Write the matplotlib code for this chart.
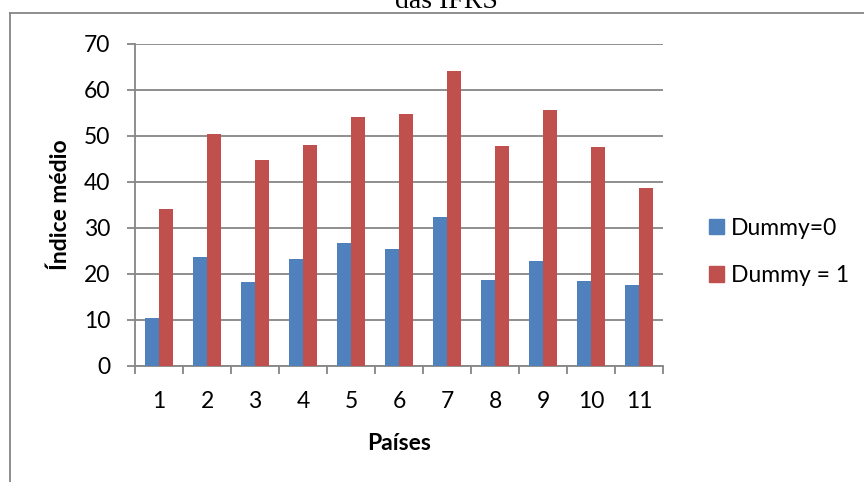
import matplotlib.pyplot as plt
import numpy as np
from matplotlib.lines import Line2D
from matplotlib.patches import Patch

paises = ['1', '2', '3', '4', '5', '6', '7', '8', '9', '10', '11']
dummy0 = [10.5, 23.6, 18.3, 23.3, 26.8, 25.5, 32.3, 18.6, 22.9, 18.5, 17.5]
dummy1 = [34.1, 50.4, 44.8, 48.0, 54.1, 54.8, 64.1, 47.8, 55.6, 47.6, 38.7]

blue = '#4F81BD'
red = '#C0504D'
grey = '#868686'
fs = 16.5

plt.rcParams['font.family'] = ['Lato', 'DejaVu Sans']

fig = plt.figure(figsize=(8.64, 4.82), dpi=100)
ax = fig.add_axes([135/864, 1-366/482, (663-135)/864, (366-43.7)/482])

x = np.arange(1, len(paises)+1)
w = 0.283
ax.bar(x - w/2, dummy0, w, color=blue, zorder=3)
ax.bar(x + w/2, dummy1, w, color=red, zorder=3)

ax.set_xlim(0.5, 11.5)
ax.set_ylim(0, 70)
ax.set_yticks(range(0, 71, 10))
ax.set_xticks(x)
ax.set_xticklabels(paises)
ax.set_xticks(np.arange(0.5, 11.6, 1), minor=True)
ax.tick_params(axis='x', which='major', length=0, pad=18, labelsize=fs)
ax.tick_params(axis='x', which='minor', length=6, width=1.3, color=grey)
ax.tick_params(axis='y', length=6, width=1.3, color=grey, pad=12, labelsize=fs)

ax.grid(axis='y', color=grey, linewidth=1.3, zorder=0)
for s in ['top', 'right']:
    ax.spines[s].set_visible(False)
for s in ['left', 'bottom']:
    ax.spines[s].set_color(grey)
    ax.spines[s].set_linewidth(1.3)

ax.set_ylabel('Índice médio', fontsize=fs, fontweight='bold', labelpad=9)
ax.set_xlabel('Países', fontsize=fs, fontweight='bold', labelpad=15)

handles = [Patch(color=blue, label='Dummy=0'), Patch(color=red, label='Dummy = 1')]
fig.legend(handles=handles, loc='center left', bbox_to_anchor=(698/864, 1-252/482),
           frameon=False, fontsize=fs, handlelength=0.65, handleheight=0.65,
           handletextpad=0.3, labelspacing=1.15, borderpad=0)

# chart frame and cut-off title
fig.add_artist(Line2D([10/864, 1], [1-13/482, 1-13/482], color=grey, linewidth=1.3))
fig.add_artist(Line2D([10/864, 10/864], [0, 1-13/482], color=grey, linewidth=1.3))
fig.text(446/864, 1-7.5/482, 'das IFRS', family='Liberation Serif', fontsize=20,
         ha='center', va='baseline')

fig.savefig('out.png', dpi=100)
